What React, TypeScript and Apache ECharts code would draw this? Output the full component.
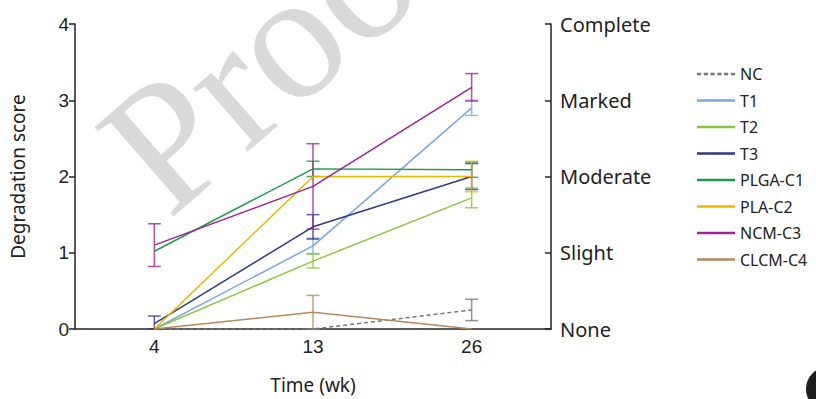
import React, { useEffect, useRef } from "react";
import * as echarts from "echarts";

const weeks = ["4", "13", "26"];
const rightLabels = ["None", "Slight", "Moderate", "Marked", "Complete"];

const seriesNames = ["NC", "T1", "T2", "T3", "PLGA-C1", "PLA-C2", "NCM-C3", "CLCM-C4"];
const seriesColors = ["#777777", "#7BA7DF", "#8DC63F", "#2E3A87", "#1A9A4A", "#F0B400", "#A0238F", "#B8875A"];

const ncValues = [0, 0, 0.25];
const ncErr = [0, 0, 0.14];
const t1Values = [0, 1.09, 2.9];
const t1Err = [0, 0.1, 0.1];
const t2Values = [0, 0.89, 1.72];
const t2Err = [0, 0.09, 0.13];
const t3Values = [0.07, 1.34, 2.0];
const t3Err = [0.1, 0.16, 0.17];
const plgaValues = [1.02, 2.1, 2.09];
const plgaErr = [0, 0.1, 0.1];
const plaValues = [0, 2.0, 2.0];
const plaErr = [0, 0, 0.2];
const ncmValues = [1.1, 1.87, 3.17];
const ncmErr = [0.28, 0.56, 0.18];
const clcmValues = [0, 0.22, 0];
const clcmErr = [0, 0.22, 0];

const allValues = [ncValues, t1Values, t2Values, t3Values, plgaValues, plaValues, ncmValues, clcmValues];
const allErr = [ncErr, t1Err, t2Err, t3Err, plgaErr, plaErr, ncmErr, clcmErr];

const dashedIcon = (() => {
  let d = "path://";
  for (let x = 0; x < 38; x += 6.4) {
    d += `M${x},0h4v2.4h-4z `;
  }
  return d;
})();

export default function App() {
  const ref = useRef<HTMLDivElement>(null);
  useEffect(() => {
    document.body.style.margin = "0";
    if (!ref.current) return;
    const chart = echarts.init(ref.current, null, { renderer: "svg" });

    const lineSeries: any[] = seriesNames.map((name, i) => ({
      name,
      type: "line",
      data: allValues[i],
      symbol: "none",
      z: 3,
      lineStyle: {
        color: seriesColors[i],
        width: 1.5,
        type: i === 0 ? [4, 3] : "solid",
      },
      itemStyle: { color: seriesColors[i] },
    }));

    const errSeries: any[] = seriesNames.map((name, i) => {
      const data: any[] = [];
      allValues[i].forEach((v, k) => {
        const e = allErr[i][k];
        if (e > 0) data.push([k, Math.max(0, v - e), v + e]);
      });
      const color = seriesColors[i];
      return {
        name: name + "-err",
        type: "custom",
        z: 2,
        encode: { x: 0, y: [1, 2] },
        data,
        renderItem: (params: any, api: any) => {
          const x = api.value(0);
          const lo = api.value(1);
          const hi = api.value(2);
          const top = api.coord([x, hi]);
          const bot = api.coord([x, lo]);
          const w = 6.5;
          const style = { stroke: color, lineWidth: 1.5, opacity: 0.8 };
          return {
            type: "group",
            children: [
              { type: "line", shape: { x1: top[0], y1: top[1], x2: bot[0], y2: bot[1] }, style },
              { type: "line", shape: { x1: top[0] - w, y1: top[1], x2: top[0] + w, y2: top[1] }, style },
              { type: "line", shape: { x1: bot[0] - w, y1: bot[1], x2: bot[0] + w, y2: bot[1] }, style },
            ],
          };
        },
      };
    });

    const option: any = {
      animation: false,
      grid: { left: 70, right: 265, top: 24, bottom: 69, containLabel: false },
      legend: {
        data: seriesNames.map((n, i) => ({
          name: n,
          icon: i === 0 ? dashedIcon : "rect",
          itemStyle: { color: seriesColors[i] },
        })),
        orient: "vertical",
        left: 692,
        top: 61,
        itemWidth: 38,
        itemHeight: 2.6,
        itemGap: 10.5,
        symbolKeepAspect: false,
        textStyle: { fontFamily: "Noto Sans", fontSize: 16, color: "#222", lineHeight: 16 },
      },
      graphic: [
        {
          type: "text",
          x: 188,
          y: 243,
          rotation: (41 * Math.PI) / 180,
          z: -10,
          silent: true,
          style: {
            text: "Proof",
            fontFamily: "Liberation Serif",
            fontSize: 182,
            fill: "#d9d9d9",
            textAlign: "left",
            textVerticalAlign: "bottom",
          },
        },
        {
          type: "circle",
          shape: { cx: 828, cy: 389, r: 22 },
          style: { fill: "#1e1e1e" },
        },
      ],
      xAxis: {
        type: "category",
        data: weeks,
        boundaryGap: true,
        name: "Time (wk)",
        nameLocation: "middle",
        nameGap: 46,
        nameTextStyle: { fontFamily: "Noto Sans", fontSize: 19, color: "#222", verticalAlign: "top" },
        axisLine: { lineStyle: { color: "#222", width: 1.5 } },
        axisTick: { alignWithLabel: true, length: 6, lineStyle: { color: "#222", width: 1.5 } },
        axisLabel: { fontFamily: "Liberation Sans", fontSize: 19, color: "#222", margin: 8 },
      },
      yAxis: [
        {
          type: "value",
          min: 0,
          max: 4,
          interval: 1,
          name: "Degradation score",
          nameLocation: "middle",
          nameGap: 48,
          nameRotate: 90,
          nameTextStyle: { fontFamily: "Noto Sans", fontSize: 19, color: "#222" },
          splitLine: { show: false },
          axisLine: { show: true, lineStyle: { color: "#222", width: 1.5 } },
          axisTick: { show: true, length: 6, lineStyle: { color: "#222", width: 1.5 } },
          axisLabel: { fontFamily: "Liberation Sans", fontSize: 19, color: "#222", margin: 6 },
        },
        {
          type: "value",
          position: "right",
          min: 0,
          max: 4,
          interval: 1,
          splitLine: { show: false },
          axisLine: { show: true, lineStyle: { color: "#222", width: 1.5 } },
          axisTick: { show: true, inside: true, length: 6, lineStyle: { color: "#222", width: 1.5 } },
          axisLabel: {
            fontFamily: "Noto Sans",
            fontSize: 20,
            color: "#222",
            margin: 9,
            formatter: (v: number) => rightLabels[Math.round(v)] ?? "",
          },
        },
      ],
      series: [...errSeries, ...lineSeries],
    };
    chart.setOption(option);
    return () => chart.dispose();
  }, []);
  return <div ref={ref} style={{ width: 816, height: 399 }} />;
}
